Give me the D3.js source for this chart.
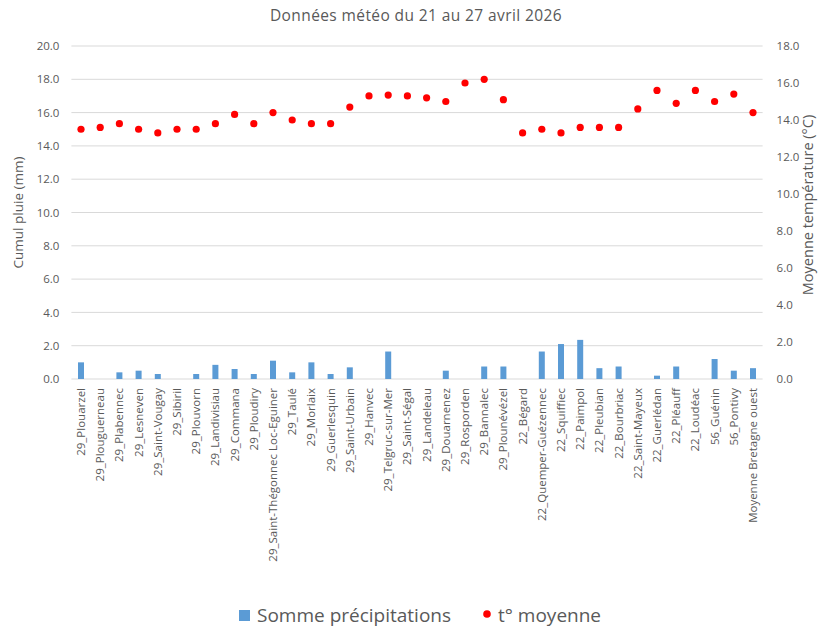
<!DOCTYPE html>
<html><head><meta charset="utf-8">
<script src="https://cdn.jsdelivr.net/npm/d3@7"></script>
<style>body{margin:0;background:#fff}svg{display:block}text{font-family:"Open Sans",sans-serif;fill:#595959}</style>
</head><body><svg id="c" width="823" height="627"></svg>
<script>
const stations = ["29_Plouarzel","29_Plouguerneau","29_Plabennec","29_Lesneven","29_Saint-Vougay","29_Sibiril","29_Plouvorn","29_Landivisiau","29_Commana","29_Ploudiry","29_Saint-Thégonnec Loc-Eguiner","29_Taulé","29_Morlaix","29_Guerlesquin","29_Saint-Urbain","29_Hanvec","29_Telgruc-sur-Mer","29_Saint-Ségal","29_Landeleau","29_Douarnenez","29_Rosporden","29_Bannalec","29_Plounévézel","22_Bégard","22_Quemper-Guézennec","22_Squiffiec","22_Paimpol","22_Pleubian","22_Bourbriac","22_Saint-Mayeux","22_Guerlédan","22_Pléauff","22_Loudéac","56_Guénin","56_Pontivy","Moyenne Bretagne ouest"];
const pluie = [1.0,0,0.4,0.5,0.3,0,0.3,0.85,0.6,0.3,1.1,0.4,1.0,0.3,0.7,0,1.65,0,0,0.5,0,0.75,0.75,0,1.65,2.1,2.35,0.65,0.75,0,0.2,0.75,0,1.2,0.5,0.65];
const temp = [13.5,13.6,13.8,13.5,13.3,13.5,13.5,13.8,14.3,13.8,14.4,14.0,13.8,13.8,14.7,15.3,15.35,15.3,15.2,15.0,16.0,16.2,15.1,13.3,13.5,13.3,13.6,13.6,13.6,14.6,15.6,14.9,15.6,15.0,15.4,14.4];
const leftTicks = [0,2,4,6,8,10,12,14,16,18,20];
const rightTicks = [0,2,4,6,8,10,12,14,16,18];
const title = "Données météo du 21 au 27 avril 2026";
const yLeftTitle = "Cumul pluie (mm)";
const yRightTitle = "Moyenne température (°C)";
const legendLabels = ["Somme précipitations","t° moyenne"];

const svg = d3.select("#c");
const L = 71.4, R = 762.6, T = 46, B = 379;
const x = d3.scaleBand().domain(stations).range([L, R]);
const yL = d3.scaleLinear().domain([0,20]).range([B,T]);
const yR = d3.scaleLinear().domain([0,18]).range([B,T]);

svg.append("text").attr("x",416).attr("y",21).attr("text-anchor","middle").style("font-size","15.5px").style("letter-spacing","0.4px").text(title);

// gridlines
svg.append("g").selectAll("line").data(leftTicks.filter(d=>d>0)).join("line")
  .attr("x1",L).attr("x2",R).attr("y1",d=>yL(d)).attr("y2",d=>yL(d))
  .attr("stroke","#d9d9d9").attr("stroke-width",1);
svg.append("line").attr("x1",L).attr("x2",R).attr("y1",B).attr("y2",B).attr("stroke","#d9d9d9");

// left axis
const gl = svg.append("g").attr("transform",`translate(${L},0)`)
  .call(d3.axisLeft(yL).tickValues(leftTicks).tickFormat(d3.format(".1f")).tickSize(0).tickPadding(12));
gl.select(".domain").remove();
gl.selectAll("text").style("font-size","11.5px").style("fill","#595959").style("font-family","'Open Sans',sans-serif");

const gr = svg.append("g").attr("transform",`translate(${R},0)`)
  .call(d3.axisRight(yR).tickValues(rightTicks).tickFormat(d3.format(".1f")).tickSize(0).tickPadding(14));
gr.select(".domain").remove();
gr.selectAll("text").style("font-size","11.5px").style("fill","#595959").style("font-family","'Open Sans',sans-serif");

// x labels
const gx = svg.append("g").attr("transform",`translate(0,${B})`)
  .call(d3.axisBottom(x).tickSize(0).tickPadding(0));
gx.select(".domain").remove();
gx.selectAll("text").attr("transform","rotate(-90)").attr("x",-9).attr("y",0).attr("dy","0.35em")
  .attr("text-anchor","end").style("font-size","11.5px").style("fill","#595959").style("font-family","'Open Sans',sans-serif");

// bars
const bw = 6;
svg.append("g").selectAll("rect").data(stations).join("rect")
  .attr("x",(d)=>x(d)+x.bandwidth()/2-bw/2).attr("width",bw)
  .attr("y",(d,i)=>yL(pluie[i])).attr("height",(d,i)=>B-yL(pluie[i]))
  .attr("fill","#5b9bd5");

// dots
svg.append("g").selectAll("circle").data(stations).join("circle")
  .attr("cx",d=>x(d)+x.bandwidth()/2).attr("cy",(d,i)=>yR(temp[i])).attr("r",3.6)
  .attr("fill","#ff0000");

// axis titles
svg.append("text").attr("transform",`translate(23,${(T+B)/2}) rotate(-90)`).attr("text-anchor","middle").style("font-size","13.5px").text(yLeftTitle);
svg.append("text").attr("transform",`translate(813,205) rotate(-90)`).attr("text-anchor","middle").style("font-size","14.5px").text(yRightTitle);

// legend
const lg = svg.append("g");
lg.append("rect").attr("x",239).attr("y",610).attr("width",11).attr("height",11).attr("fill","#5b9bd5");
lg.append("text").attr("x",257).attr("y",622).style("font-size","19px").text(legendLabels[0]);
lg.append("circle").attr("cx",487).attr("cy",614).attr("r",3.8).attr("fill","#ff0000");
lg.append("text").attr("x",498).attr("y",622).style("font-size","19px").text(legendLabels[1]);
</script></body></html>
